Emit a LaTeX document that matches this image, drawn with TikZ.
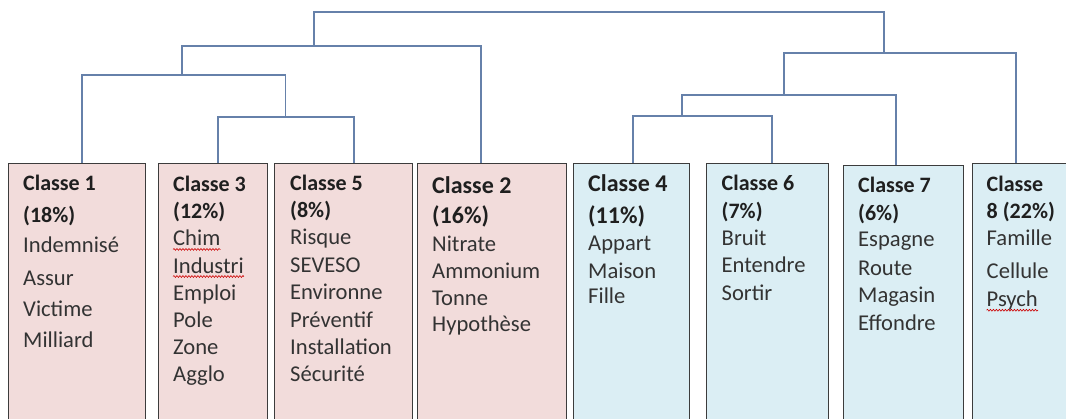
\documentclass[tikz,border=0pt]{standalone}
\usepackage{fontspec}
\setmainfont{Carlito}
\usetikzlibrary{decorations.pathmorphing}
\definecolor{pinkfill}{HTML}{F2DCDB}
\definecolor{bluefill}{HTML}{DBEEF4}
\definecolor{edgec}{HTML}{3C3C3C}
\definecolor{linkc}{HTML}{6681AA}
\definecolor{ink}{HTML}{333333}
\definecolor{titleink}{HTML}{1F1F1F}
\begin{document}
\begin{tikzpicture}[x=1pt,y=-1pt,
  box/.style={draw=edgec, line width=1.4pt, anchor=north west, minimum height=290pt, inner sep=0pt},
  pinkbox/.style={box, fill=pinkfill},
  bluebox/.style={box, fill=bluefill},
  link/.style={draw=linkc, line width=1.2pt},
  word/.style={anchor=base west, inner sep=0pt, font=\fontsize{22.6}{26}\selectfont, text=ink},
  title/.style={anchor=base west, inner sep=0pt, font=\fontsize{22}{26}\selectfont\bfseries, text=titleink},
  bigtitle/.style={anchor=base west, inner sep=0pt, font=\fontsize{24}{28}\selectfont\bfseries, text=titleink},
  squiggle/.style={draw=red!80!black, line width=0.6pt, decorate, decoration={snake, amplitude=0.9pt, segment length=3pt}}]
\useasboundingbox (0,0) rectangle (1066,418);
\clip (0,0) rectangle (1066,418);

% connection points on box tops
\coordinate (c1) at (82,163);
\coordinate (c3) at (218,163);
\coordinate (c5) at (354,163);
\coordinate (c2) at (481,163);
\coordinate (c4) at (633,163);
\coordinate (c6) at (772,163);
\coordinate (c7) at (896,165);
\coordinate (c8) at (1016,163);
% junctions
\coordinate (j35) at (285.5,117);
\coordinate (j135) at (182,75);
\coordinate (j1352) at (314,46);
\coordinate (j46) at (682,116);
\coordinate (j467) at (784,95);
\coordinate (j4678) at (884,53);
\coordinate (jtop) at (600,12);

\draw[link] (c3) |- (j35) -| (c5);
\draw[link] (c1) |- (j135) -| (j35);
\draw[link] (j135) |- (j1352) -| (c2);
\draw[link] (c4) |- (j46) -| (c6);
\draw[link] (j46) |- (j467) -| (c7);
\draw[link] (j467) |- (j4678) -| (c8);
\draw[link] (j1352) |- (jtop) -| (j4678);

% boxes
\node[pinkbox, minimum width=137pt] (b1) at (8,163) {};
\node[pinkbox, minimum width=109pt] (b3) at (158,163) {};
\node[pinkbox, minimum width=138pt] (b5) at (274,163) {};
\node[pinkbox, minimum width=149pt] (b2) at (417,163) {};
\node[bluebox, minimum width=116pt] (b4) at (573,163) {};
\node[bluebox, minimum width=122pt] (b6) at (706,163) {};
\node[bluebox, minimum width=120pt] (b7) at (843,165) {};
\node[bluebox, minimum width=110pt] (b8) at (972,163) {};

% Classe 1
\node[title] (t1a) at (23,190.7) {Classe 1};
\node[title] (t1b) at (23,222.7) {(18\%)};
\foreach \y/\w [count=\i] in {252.7/Indemnisé, 285/Assur, 316.7/Victime, 347.3/Milliard}
  \node[word] (w1-\i) at (23,\y) {\w};

% Classe 3
\node[title] (t3a) at (173,191.7) {Classe 3};
\node[title] (t3b) at (173,218.8) {(12\%)};
\foreach \y/\w [count=\i] in {245.9/Chim, 273/Industri, 300.1/Emploi, 327.2/Pole, 354.3/Zone, 381.4/Agglo}
  \node[word] (w3-\i) at (173,\y) {\w};
\draw[squiggle] ([yshift=-3.5pt]w3-1.base west) -- ([yshift=-3.5pt]w3-1.base east);
\draw[squiggle] ([yshift=-3.5pt]w3-2.base west) -- ([yshift=-3.5pt]w3-2.base east);

% Classe 5
\node[title] (t5a) at (290,190) {Classe 5};
\node[title] (t5b) at (290,217.4) {(8\%)};
\foreach \y/\w [count=\i] in {244.8/Risque, 272.2/SEVESO, 299.6/Environne, 327/Préventif, 354.4/Installation, 381.8/Sécurité}
  \node[word] (w5-\i) at (290,\y) {\w};

% Classe 2
\node[bigtitle] (t2a) at (432,193.3) {Classe 2};
\node[bigtitle] (t2b) at (432,223.3) {(16\%)};
\foreach \y/\w [count=\i] in {251.7/Nitrate, 278.3/Ammonium, 305.7/Tonne, 331.7/Hypothèse}
  \node[word] (w2-\i) at (432,\y) {\w};

% Classe 4
\node[bigtitle] (t4a) at (588,191.7) {Classe 4};
\node[bigtitle] (t4b) at (588,223.3) {(11\%)};
\foreach \y/\w [count=\i] in {250/Appart, 278.3/Maison, 303.3/Fille}
  \node[word] (w4-\i) at (588,\y) {\w};

% Classe 6
\node[title] (t6a) at (721.5,190.7) {Classe 6};
\node[title] (t6b) at (721.5,218.3) {(7\%)};
\foreach \y/\w [count=\i] in {245/Bruit, 272.7/Entendre, 300/Sortir}
  \node[word] (w6-\i) at (721.5,\y) {\w};

% Classe 7
\node[title] (t7a) at (858,192.7) {Classe 7};
\node[title] (t7b) at (858,220.7) {(6\%)};
\foreach \y/\w [count=\i] in {246.7/Espagne, 275/Route, 302.7/Magasin, 330/Effondre}
  \node[word] (w7-\i) at (858,\y) {\w};

% Classe 8
\node[title] (t8a) at (986.5,191.7) {Classe};
\node[title] (t8b) at (986.5,218.3) {8 (22\%)};
\foreach \y/\w [count=\i] in {245/Famille, 278.3/Cellule, 306.7/Psych}
  \node[word] (w8-\i) at (986.5,\y) {\w};
\draw[squiggle] ([yshift=-3.5pt]w8-3.base west) -- ([yshift=-3.5pt]w8-3.base east);
\end{tikzpicture}
\end{document}
